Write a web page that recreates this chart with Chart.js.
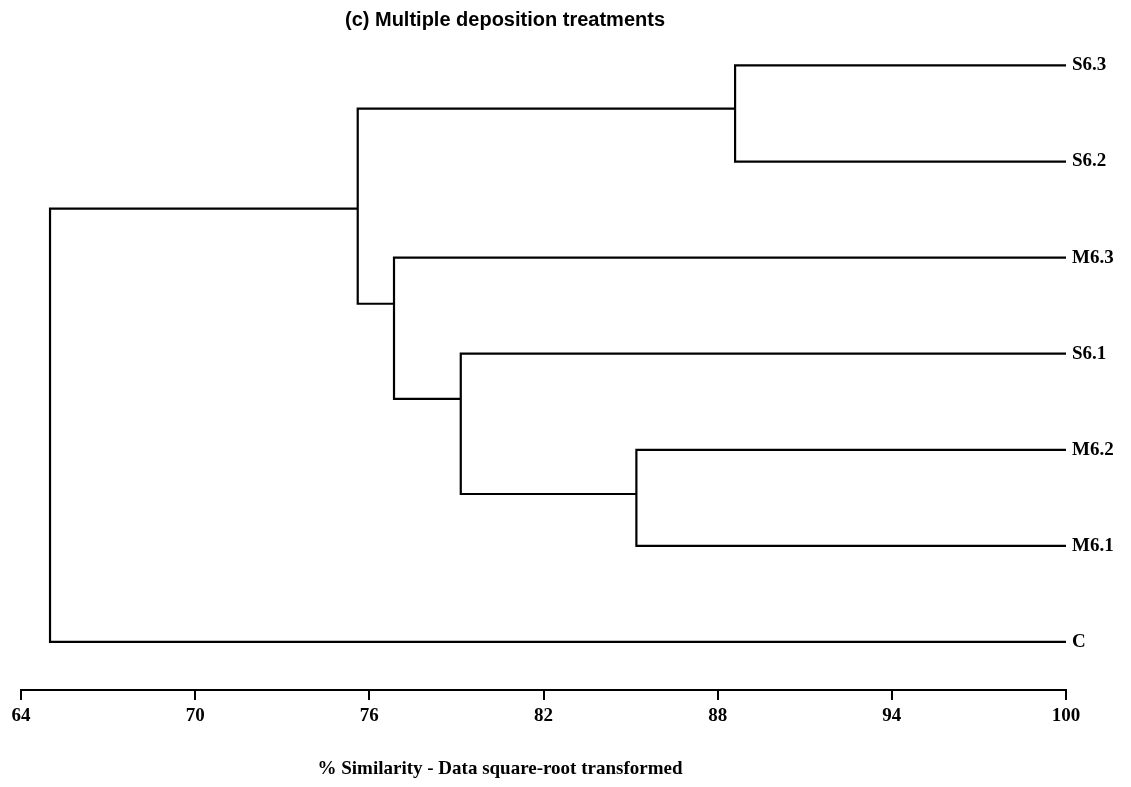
<!DOCTYPE html>
<html>
<head>
<meta charset="utf-8">
<script src="https://cdn.jsdelivr.net/npm/chart.js@4.4.1/dist/chart.umd.min.js"></script>
<style>
  html, body { margin: 0; padding: 0; background: #fff; }
  #wrap { position: relative; width: 1131px; height: 787px; }
</style>
</head>
<body>
<div id="wrap"><canvas id="dendro"></canvas></div>
<script>
// Samples, top to bottom as they sit on the right edge
const leafLabels = ['S6.3', 'S6.2', 'M6.3', 'S6.1', 'M6.2', 'M6.1', 'C'];

// Merge nodes: % similarity where the two branches join
const nodeNames      = ['n1', 'n2', 'n3', 'n4', 'n5', 'root'];
const nodeSimilarity = [88.6, 85.2, 79.15, 76.85, 75.6, 65.0];
const nodeFirst      = ['S6.3', 'M6.2', 'S6.1', 'M6.3', 'n1', 'n5'];
const nodeSecond     = ['S6.2', 'M6.1', 'n2', 'n3', 'n4', 'C'];
// row (0 = top leaf) where the branch going to the parent leaves each node
const nodeRow        = [0.45, 4.46, 3.47, 2.48, 1.49, 3.5];

const xTicks = [64, 70, 76, 82, 88, 94, 100];
const chartTitle = '(c) Multiple deposition treatments';
const axisTitle = '% Similarity - Data square-root transformed';

function posOf(name) {
    const li = leafLabels.indexOf(name);
    if (li >= 0) return { x: 100, y: li };
    const ni = nodeNames.indexOf(name);
    return { x: nodeSimilarity[ni], y: nodeRow[ni] };
}

// one elbow polyline per merge
const datasets = nodeNames.map((name, i) => {
    const a = posOf(nodeFirst[i]);
    const b = posOf(nodeSecond[i]);
    const x = nodeSimilarity[i];
    return {
        label: name,
        data: [
            { x: a.x, y: a.y },
            { x: x, y: a.y },
            { x: x, y: b.y },
            { x: b.x, y: b.y }
        ],
        showLine: true,
        borderColor: '#000',
        borderWidth: 2.2,
        pointRadius: 0,
        tension: 0,
        fill: false
    };
});

// free text: title on top, axis caption below
const captions = {
    id: 'captions',
    afterDraw(chart) {
        const ctx = chart.ctx;
        ctx.save();
        ctx.fillStyle = '#000';
        ctx.textAlign = 'center';
        ctx.textBaseline = 'middle';
        ctx.font = 'bold 20px "Liberation Sans", Arial, sans-serif';
        ctx.fillText(chartTitle, 505, 20);
        ctx.font = 'bold 19px "Liberation Serif", "Times New Roman", serif';
        ctx.fillText(axisTitle, 500, 769);
        ctx.restore();
    }
};

const serif = { family: '"Liberation Serif", "Times New Roman", serif', size: 19, weight: 'bold' };

new Chart(document.getElementById('dendro'), {
    type: 'scatter',
    data: { datasets: datasets },
    options: {
        responsive: true,
        maintainAspectRatio: false,
        animation: false,
        layout: { padding: { left: 21, right: 0, top: 5, bottom: 0 } },
        plugins: {
            legend: { display: false },
            tooltip: { enabled: false },
            title: { display: false }
        },
        scales: {
            x: {
                type: 'linear',
                position: 'bottom',
                min: 64,
                max: 100,
                afterBuildTicks: axis => { axis.ticks = xTicks.map(v => ({ value: v })); },
                afterFit: axis => { axis.height = 97; },
                ticks: {
                    color: '#000',
                    font: serif,
                    padding: 5,
                    maxRotation: 0,
                    autoSkip: false
                },
                grid: {
                    drawOnChartArea: false,
                    drawTicks: true,
                    tickLength: 10,
                    color: '#000',
                    lineWidth: 2
                },
                border: { display: true, color: '#000', width: 2 }
            },
            y: {
                type: 'linear',
                position: 'right',
                reverse: true,
                min: -0.5,
                max: 6.5,
                afterBuildTicks: axis => { axis.ticks = leafLabels.map((_, i) => ({ value: i })); },
                afterFit: axis => { axis.width = 65; },
                ticks: {
                    color: '#000',
                    font: serif,
                    padding: 6,
                    callback: v => leafLabels[v]
                },
                grid: { display: false, drawTicks: false },
                border: { display: false }
            }
        }
    },
    plugins: [captions]
});
</script>
</body>
</html>
